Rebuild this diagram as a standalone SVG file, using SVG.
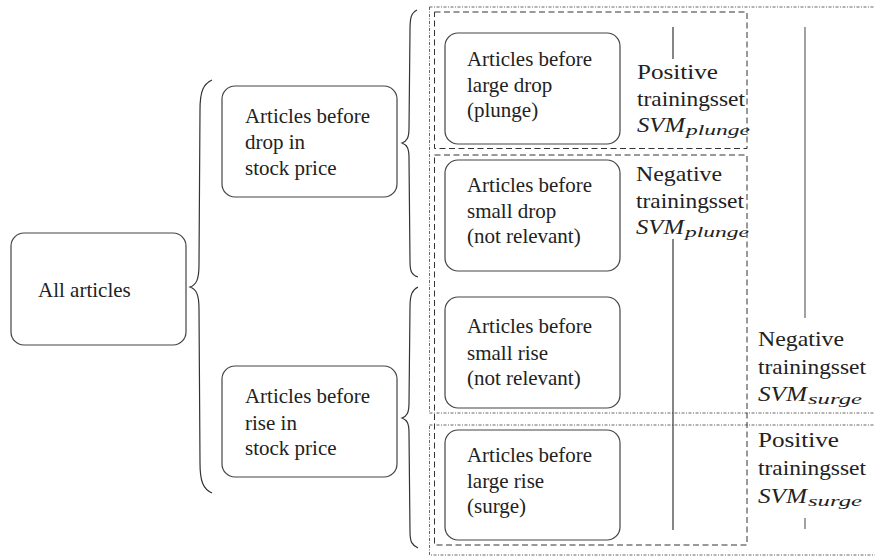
<svg xmlns="http://www.w3.org/2000/svg" width="875" height="559" viewBox="0 0 875 559">
<rect x="0" y="0" width="875" height="559" fill="#fff"/>

<g id="connectors" fill="none" stroke="#333" stroke-width="1.2">
  <path d="M212,80 C203,84 200,92 200,110 L199,265 C199,280 196,285 190,287 C196,289 199,294 199,309 L200,463 C200,481 203,489 212,493"/>
  <path d="M417,10 C411,13 410,18 410,30 L409,128 C409,138 407,141 402,143 C407,145 409,148 409,158 L410,262 C410,272 412,275 418,277"/>
  <path d="M418,287 C412,290 410,295 410,307 L409,403 C409,413 407,416 402,418 C407,420 409,423 409,433 L410,532 C410,542 412,545 418,548"/>
</g>

<g id="groups" fill="none">
  <g stroke="#555" stroke-width="0.9" stroke-dasharray="3 1.5 1 1.5">
    <rect x="429.5" y="7" width="460" height="406"/>
    <rect x="429.5" y="425" width="460" height="130"/>
  </g>
  <g stroke="#333" stroke-width="1" stroke-dasharray="6 3.5">
    <rect x="434.5" y="12" width="312.5" height="136.5"/>
    <rect x="434.5" y="155" width="312.5" height="390"/>
  </g>
  <g stroke="#222" stroke-width="1.1">
    <line x1="673" y1="27" x2="673" y2="59"/>
    <line x1="673" y1="239" x2="673" y2="530"/>
  </g>
  <g stroke="#555" stroke-width="1.1">
    <line x1="805" y1="27" x2="805" y2="318"/>
    <line x1="805" y1="518" x2="805" y2="529"/>
  </g>
</g>

<g fill="#fff" stroke="#444" stroke-width="1.2">
  <rect id="all-box" x="11" y="233" width="175" height="112" rx="13"/>
  <rect id="drop-box" x="222" y="86" width="175" height="111" rx="13"/>
  <rect id="rise-box" x="222" y="366" width="175" height="111" rx="13"/>
  <rect id="largedrop-box" x="445" y="33" width="175" height="111" rx="13"/>
  <rect id="smalldrop-box" x="445" y="160" width="175" height="111" rx="13"/>
  <rect id="smallrise-box" x="445" y="297" width="175" height="111" rx="13"/>
  <rect id="largerise-box" x="445" y="430" width="175" height="110" rx="13"/>
</g>

<g font-family="Liberation Serif" font-size="21" fill="#222">
<g id="all">
  <text x="38" y="297" font-family="Liberation Serif">All articles</text>
</g>
<g id="drop">
  <text x="245" y="123" font-family="Liberation Serif" textLength="125" lengthAdjust="spacingAndGlyphs">Articles before</text>
  <text x="245" y="149" font-family="Liberation Serif">drop in</text>
  <text x="245" y="175" font-family="Liberation Serif">stock price</text>
</g>
<g id="rise">
  <text x="245" y="403" font-family="Liberation Serif" textLength="125" lengthAdjust="spacingAndGlyphs">Articles before</text>
  <text x="245" y="430" font-family="Liberation Serif">rise in</text>
  <text x="245" y="455" font-family="Liberation Serif">stock price</text>
</g>
<g id="largedrop">
  <text x="467" y="66" font-family="Liberation Serif" textLength="125" lengthAdjust="spacingAndGlyphs">Articles before</text>
  <text x="467" y="91.5" font-family="Liberation Serif">large drop</text>
  <text x="467" y="117" font-family="Liberation Serif">(plunge)</text>
</g>
<g id="smalldrop">
  <text x="467" y="192" font-family="Liberation Serif" textLength="125" lengthAdjust="spacingAndGlyphs">Articles before</text>
  <text x="467" y="218" font-family="Liberation Serif">small drop</text>
  <text x="467" y="243" font-family="Liberation Serif">(not relevant)</text>
</g>
<g id="smallrise">
  <text x="467" y="333" font-family="Liberation Serif" textLength="125" lengthAdjust="spacingAndGlyphs">Articles before</text>
  <text x="467" y="360" font-family="Liberation Serif">small rise</text>
  <text x="467" y="385" font-family="Liberation Serif">(not relevant)</text>
</g>
<g id="largerise">
  <text x="467" y="462" font-family="Liberation Serif" textLength="125" lengthAdjust="spacingAndGlyphs">Articles before</text>
  <text x="467" y="488" font-family="Liberation Serif">large rise</text>
  <text x="467" y="513" font-family="Liberation Serif">(surge)</text>
</g>
<g id="pos-plunge">
  <text x="637" y="79" font-family="Liberation Serif" textLength="81" lengthAdjust="spacingAndGlyphs">Positive</text>
  <text x="637" y="106" font-family="Liberation Serif" textLength="108" lengthAdjust="spacingAndGlyphs">trainingsset</text>
  <text x="637" y="132" font-family="Liberation Serif" font-style="italic" textLength="48" lengthAdjust="spacingAndGlyphs">SVM</text>
  <text x="686" y="135" font-family="Liberation Serif" font-style="italic" font-size="15" textLength="64" lengthAdjust="spacingAndGlyphs">plunge</text>
</g>
<g id="neg-plunge">
  <text x="636" y="181" font-family="Liberation Serif" textLength="86" lengthAdjust="spacingAndGlyphs">Negative</text>
  <text x="636" y="208" font-family="Liberation Serif" textLength="108" lengthAdjust="spacingAndGlyphs">trainingsset</text>
  <text x="636" y="234" font-family="Liberation Serif" font-style="italic" textLength="48" lengthAdjust="spacingAndGlyphs">SVM</text>
  <text x="685" y="237" font-family="Liberation Serif" font-style="italic" font-size="15" textLength="64" lengthAdjust="spacingAndGlyphs">plunge</text>
</g>
<g id="neg-surge">
  <text x="758" y="346" font-family="Liberation Serif" textLength="86" lengthAdjust="spacingAndGlyphs">Negative</text>
  <text x="758" y="374" font-family="Liberation Serif" textLength="108" lengthAdjust="spacingAndGlyphs">trainingsset</text>
  <text x="758" y="401" font-family="Liberation Serif" font-style="italic" textLength="49" lengthAdjust="spacingAndGlyphs">SVM</text>
  <text x="808" y="404" font-family="Liberation Serif" font-style="italic" font-size="15" textLength="54" lengthAdjust="spacingAndGlyphs">surge</text>
</g>
<g id="pos-surge">
  <text x="758" y="447" font-family="Liberation Serif" textLength="81" lengthAdjust="spacingAndGlyphs">Positive</text>
  <text x="758" y="475" font-family="Liberation Serif" textLength="108" lengthAdjust="spacingAndGlyphs">trainingsset</text>
  <text x="758" y="503" font-family="Liberation Serif" font-style="italic" textLength="49" lengthAdjust="spacingAndGlyphs">SVM</text>
  <text x="808" y="506" font-family="Liberation Serif" font-style="italic" font-size="15" textLength="54" lengthAdjust="spacingAndGlyphs">surge</text>
</g>
</g>
</svg>
